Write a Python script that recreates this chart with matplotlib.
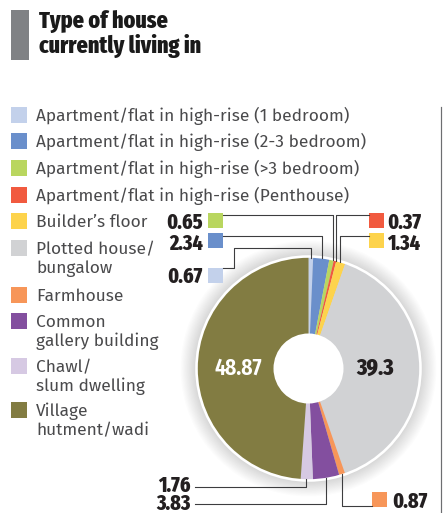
import matplotlib
matplotlib.use("Agg")
import matplotlib.pyplot as plt
from matplotlib.patches import Rectangle, Circle
import numpy as np

categories = [
    "Apartment/flat in high-rise (1 bedroom)",
    "Apartment/flat in high-rise (2-3 bedroom)",
    "Apartment/flat in high-rise (>3 bedroom)",
    "Apartment/flat in high-rise (Penthouse)",
    "Builder\u2019s floor",
    "Plotted house/\nbungalow",
    "Farmhouse",
    "Common\ngallery building",
    "Chawl/\nslum dwelling",
    "Village\nhutment/wadi",
]
values = [0.67, 2.34, 0.65, 0.37, 1.34, 39.3, 0.87, 3.83, 1.76, 48.87]
value_labels = ["0.67", "2.34", "0.65", "0.37", "1.34", "39.3", "0.87", "3.83", "1.76", "48.87"]
colors = ["#c3d1eb", "#6a8fcb", "#b9d65f", "#f15a3f", "#fdd34c",
          "#d1d2d4", "#f79659", "#834f9f", "#d6c9e3", "#827c42"]
title_lines = ["Type of house", "currently living in"]

W, H = 443, 513
fig = plt.figure(figsize=(W / 100, H / 100), dpi=100)
ax = fig.add_axes([0, 0, 1, 1])

XCOND = ["Fira Sans Extra Condensed", "Fira Sans Condensed", "DejaVu Sans"]
REG = ["Fira Sans", "DejaVu Sans"]
PT = 72 / 100  # px -> pt

cx, cy, R = 308.5, 368.5, 112

# soft shadow
for r in np.linspace(R + 16, R + 1, 14):
    ax.add_patch(Circle((cx, cy), r, facecolor="#000000", alpha=0.013, lw=0, zorder=1))

wedges, _ = ax.pie(values, colors=colors, startangle=-90, counterclock=True,
                   center=(cx, cy), radius=R,
                   wedgeprops=dict(linewidth=0))
for w in wedges:
    w.set_zorder(2)
ax.add_patch(Circle((cx, cy), R, facecolor="none", edgecolor="white", lw=2.6 * PT, zorder=3))
ax.add_patch(Circle((cx, cy), 35, facecolor="white", edgecolor="none", zorder=3))

ax.set_xlim(0, W)
ax.set_ylim(H, 0)
ax.set_aspect("auto")
ax.axis("off")

# title
ax.add_patch(Rectangle((11, 10), 18, 50, facecolor="#808285", lw=0))
for k, line in enumerate(title_lines):
    ax.text(39, 28 + 25 * k, line, family=XCOND, fontweight="heavy", fontsize=24 * PT,
            color="#1a1a1a", va="baseline", ha="left")

# legend
row_tops = [107, 133, 160, 187, 213, 240, 287, 313, 358, 402]
for top, cat, col in zip(row_tops, categories, colors):
    ax.add_patch(Rectangle((11, top), 16, 16, facecolor=col, lw=0))
    for k, line in enumerate(cat.split("\n")):
        ax.text(36, top + 14 + 19 * k, line, family=REG, fontweight="normal", fontsize=17.3 * PT,
                color="#4a4a4c", va="baseline", ha="left")

# right divider
ax.plot([441.5, 441.5], [107, 513], color="#6d6e71", lw=1.2 * PT)

def pie_y(x, top=True):
    d = np.sqrt(max(R ** 2 - (x - cx) ** 2, 0))
    return cy - d if top else cy + d

LC = "#3d3d3f"
LW = 1.1 * PT
NUMC = "#231f20"
NFS = 21.5 * PT
NW = "heavy"

def num(x, y, s, ha):
    ax.text(x, y, s, family=XCOND, fontweight=NW, fontsize=NFS, color=NUMC, ha=ha, va="baseline")

# 0.65
ax.add_patch(Rectangle((208, 213), 15, 15, facecolor=colors[2], lw=0))
num(203, 229, value_labels[2], "right")
ax.plot([223, 333, 333], [215, 215, pie_y(333) + 1], color=LC, lw=LW, zorder=4)
# 2.34
ax.add_patch(Rectangle((208, 233), 15, 15, facecolor=colors[1], lw=0))
num(203, 250, value_labels[1], "right")
ax.plot([223, 322, 322], [236, 236, pie_y(322) + 1], color=LC, lw=LW, zorder=4)
# 0.67
ax.add_patch(Rectangle((208, 268), 15, 15, facecolor=colors[0], lw=0))
num(203, 283, value_labels[0], "right")
ax.plot([223, 234, 234, 311, 311], [268, 268, 248, 248, pie_y(311) + 1], color=LC, lw=LW, zorder=4)
# 0.37
ax.add_patch(Rectangle((369, 213), 15, 15, facecolor=colors[3], lw=0))
num(387, 229, value_labels[3], "left")
ax.plot([369, 336, 336], [215, 215, pie_y(336) + 1], color=LC, lw=LW, zorder=4)
# 1.34
ax.add_patch(Rectangle((369, 233), 15, 15, facecolor=colors[4], lw=0))
num(387, 250, value_labels[4], "left")
ax.plot([369, 340, 340], [236, 236, pie_y(340) + 1], color=LC, lw=LW, zorder=4)
# 1.76
num(191, 491.5, value_labels[8], "right")
ax.plot([195, 306, 306], [487, 487, pie_y(306, False) - 1], color=LC, lw=LW, zorder=4)
# 3.83
num(191, 510.5, value_labels[7], "right")
ax.plot([195, 326, 326], [504, 504, pie_y(326, False) - 1], color=LC, lw=LW, zorder=4)
# 0.87
ax.add_patch(Rectangle((372, 492), 15, 15, facecolor=colors[6], lw=0))
num(392, 508, value_labels[6], "left")
ax.plot([372, 342, 342], [506, 506, pie_y(342, False) - 1], color=LC, lw=LW, zorder=4)

# inner labels
ax.text(238.5, 368, value_labels[9], family=XCOND, fontweight="semibold", fontsize=23.5 * PT,
        color="white", ha="center", va="center", zorder=5)
ax.text(375, 368, value_labels[5], family=XCOND, fontweight="heavy", fontsize=23.5 * PT,
        color=NUMC, ha="center", va="center", zorder=5)

fig.savefig("out.png", dpi=100, facecolor="white")
